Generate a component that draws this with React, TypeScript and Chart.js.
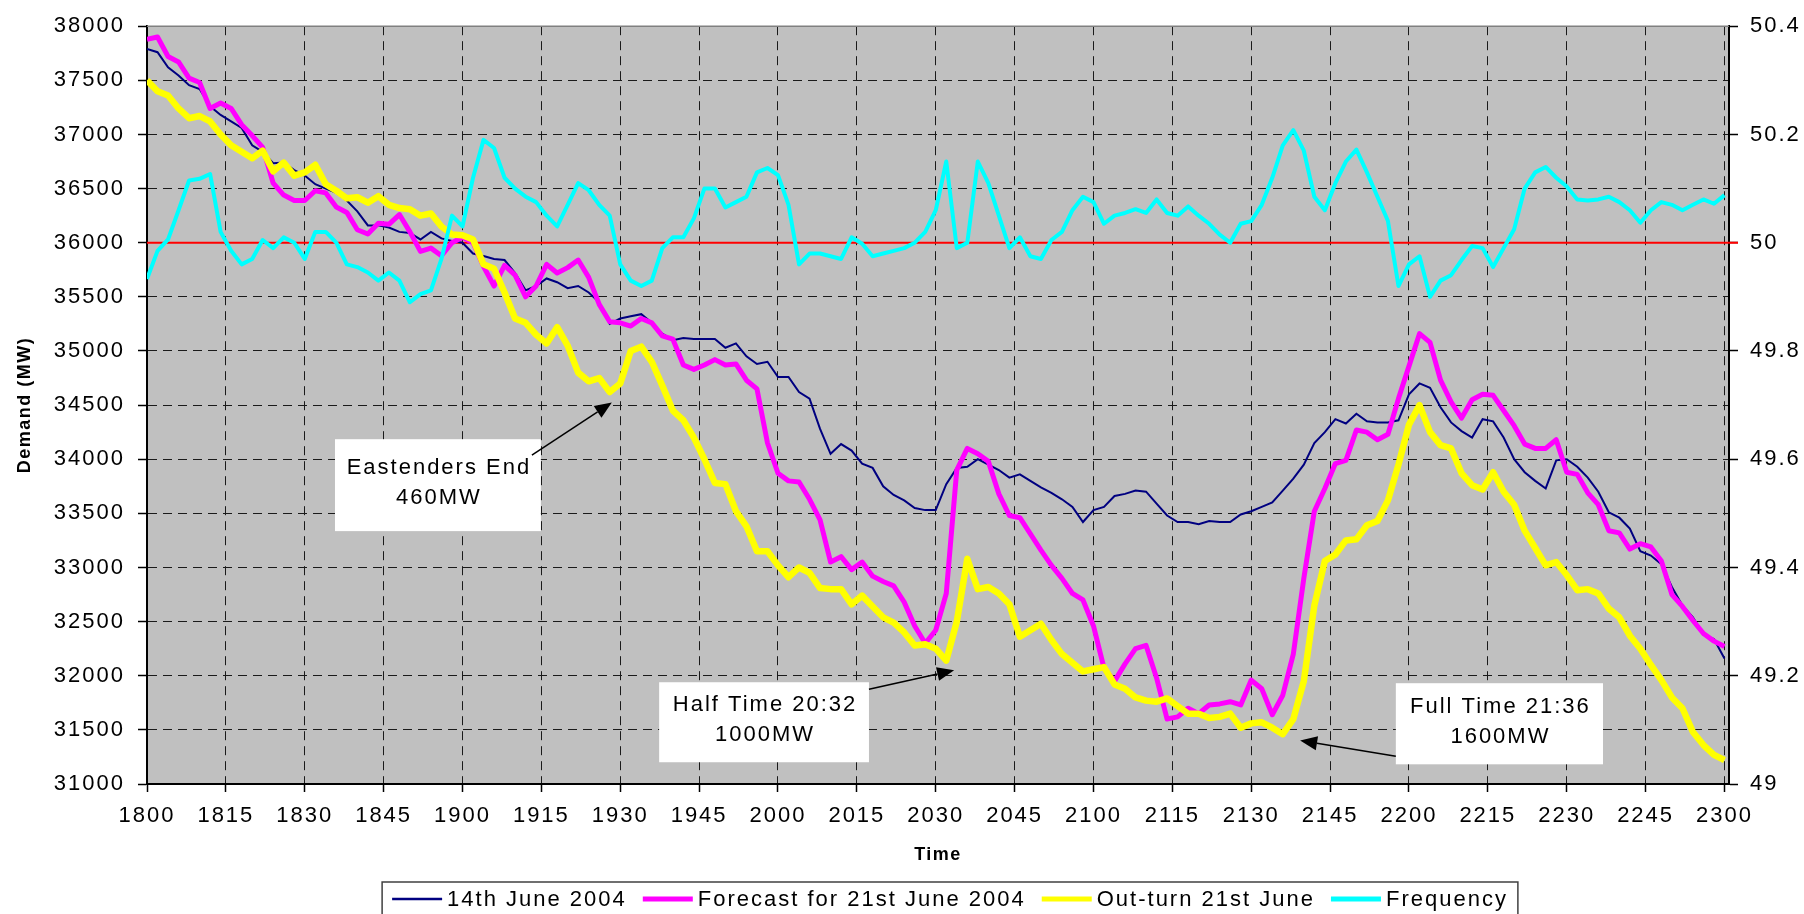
import React, { useEffect, useRef } from "react";
import { Chart, registerables } from "chart.js";

Chart.register(...registerables);

// ---- data -------------------------------------------------------------
// minutes after 18:00, sampled every two minutes
const minutes: number[] = Array.from({ length: 151 }, (_, i) => i * 2);

const june14: number[] = [
  37790, 37760, 37620, 37545, 37455, 37420, 37260, 37180, 37120, 37060,
  36900, 36840, 36735, 36740, 36670, 36620, 36540, 36500, 36460, 36390,
  36290, 36160, 36160, 36140, 36100, 36090, 36030, 36100, 36040, 36015,
  36000, 35900, 35878, 35850, 35840, 35720, 35560, 35600, 35670, 35635,
  35580, 35600, 35540, 35450, 35250, 35300, 35320, 35340, 35260, 35160,
  35100, 35120, 35110, 35110, 35110, 35030, 35070, 34950, 34880, 34900,
  34760, 34760, 34620, 34560, 34280, 34050, 34140, 34080, 33960, 33920,
  33750, 33670, 33620, 33550, 33530, 33530, 33770, 33920, 33930, 34000,
  33950, 33900, 33830, 33860, 33800, 33740, 33690, 33630, 33560, 33420,
  33530, 33560, 33660, 33680, 33710, 33700, 33590, 33480, 33420, 33420,
  33400, 33430, 33420, 33420, 33490, 33520, 33560, 33600, 33710, 33820,
  33950, 34150, 34250, 34370, 34330, 34420, 34350, 34340, 34340, 34360,
  34600, 34700, 34660, 34480, 34340, 34260, 34200, 34370, 34350, 34200,
  34000, 33880, 33800, 33730, 33990, 34000, 33930, 33830, 33700, 33510,
  33460, 33360, 33150, 33110, 33030, 32820, 32650, 32540, 32380, 32340,
  32160,
];

const forecast21: number[] = [
  37880, 37900, 37720, 37670, 37520, 37480, 37240, 37290, 37240, 37090,
  36990, 36880, 36550, 36440, 36390, 36390, 36480, 36460, 36330, 36280,
  36120, 36080, 36180, 36170, 36260, 36100, 35920, 35950, 35880, 36000,
  36050, 36000, 35780, 35600, 35790, 35700, 35500, 35600, 35800, 35720,
  35770, 35840, 35680, 35430, 35270, 35260, 35230, 35300, 35260, 35140,
  35110, 34870, 34830, 34870, 34920, 34870, 34880, 34730, 34650, 34150,
  33870, 33800, 33790, 33630, 33440, 33050, 33100, 32980, 33050, 32920,
  32870, 32830, 32680, 32460, 32300, 32420, 32760, 33900, 34100, 34050,
  33980, 33680, 33480, 33460, 33310, 33160, 33020, 32900, 32760, 32700,
  32460, 32070, 31950, 32110, 32250, 32280, 31980, 31600, 31620, 31700,
  31650, 31730, 31740, 31760, 31730, 31960, 31880, 31640, 31820, 32200,
  32900, 33520, 33730, 33960, 33990, 34270, 34250, 34180, 34230, 34560,
  34860, 35160, 35080, 34730, 34530, 34380, 34550, 34600, 34590, 34450,
  34310, 34140, 34100, 34100, 34180, 33880, 33860, 33690, 33580, 33340,
  33320, 33170, 33220, 33190, 33060, 32750, 32640, 32510, 32390, 32320,
  32270,
];

const outturn21: number[] = [
  37500, 37400, 37360, 37240, 37150, 37170, 37120, 37000, 36900, 36840,
  36780, 36850, 36660, 36740, 36620, 36650, 36720, 36540, 36480, 36410,
  36420, 36370, 36430, 36350, 36320, 36310, 36250, 36270, 36150, 36076,
  36070, 36030, 35800, 35760, 35540, 35300, 35260, 35150, 35070, 35220,
  35050, 34800, 34720, 34750, 34620, 34700, 35000, 35040, 34900, 34680,
  34450, 34360, 34200, 34000, 33780, 33770, 33520, 33380, 33150, 33150,
  33020, 32910, 33000, 32950, 32810, 32800, 32800, 32660, 32740, 32640,
  32540, 32490, 32400, 32280, 32290, 32250, 32140, 32500, 33080, 32800,
  32820, 32760, 32660, 32360, 32420, 32480, 32330, 32200, 32120, 32040,
  32060, 32080, 31920, 31880, 31800, 31770, 31760, 31790, 31720, 31650,
  31650, 31610, 31620, 31650, 31520, 31560, 31570, 31520, 31460, 31600,
  31950, 32650, 33060, 33120, 33250, 33260, 33390, 33430, 33620, 33950,
  34320, 34500, 34250, 34130, 34100, 33870, 33760, 33720, 33880, 33700,
  33580, 33340, 33180, 33020, 33050, 32930, 32790, 32800, 32760, 32620,
  32540, 32370, 32250, 32100, 31960, 31800, 31700, 31480, 31360, 31270,
  31220,
];

const frequency: number[] = [
  49.933, 49.985, 50.006, 50.06, 50.115, 50.118, 50.127, 50.02, 49.985, 49.96,
  49.97, 50.005, 49.99, 50.01, 50.0, 49.97, 50.02, 50.02, 50.0, 49.96,
  49.955, 49.945, 49.93, 49.945, 49.93, 49.89, 49.905, 49.912, 49.97, 50.05,
  50.03, 50.12, 50.19, 50.175, 50.12, 50.1, 50.085, 50.075, 50.05, 50.03,
  50.07, 50.11, 50.097, 50.07, 50.05, 49.96, 49.93, 49.92, 49.93, 49.99,
  50.01, 50.01, 50.045, 50.1, 50.1, 50.065, 50.075, 50.085, 50.13, 50.138,
  50.125, 50.07, 49.96, 49.98, 49.98, 49.975, 49.97, 50.01, 49.998, 49.975,
  49.98, 49.985, 49.99, 50.0, 50.02, 50.06, 50.15, 49.99, 50.0, 50.15,
  50.11, 50.05, 49.99, 50.01, 49.975, 49.97, 50.005, 50.02, 50.06, 50.085,
  50.075, 50.035, 50.05, 50.055, 50.062, 50.055, 50.08, 50.055, 50.05, 50.067,
  50.05, 50.035, 50.015, 50.0, 50.035, 50.04, 50.07, 50.12, 50.18, 50.208,
  50.17, 50.085, 50.06, 50.11, 50.15, 50.172, 50.13, 50.085, 50.04, 49.92,
  49.96, 49.975, 49.9, 49.93, 49.94, 49.968, 49.994, 49.99, 49.955, 49.99,
  50.025, 50.1, 50.13, 50.14, 50.12, 50.104, 50.08, 50.078, 50.08, 50.085,
  50.075, 50.06, 50.037, 50.06, 50.075, 50.07, 50.06, 50.07, 50.08, 50.072,
  50.088,
];

const nominalFrequency = 50;

const xTickMinutes: number[] = [0, 15, 30, 45, 60, 75, 90, 105, 120, 135, 150, 165, 180, 195, 210, 225, 240, 255, 270, 285, 300];
const xTickLabels: string[] = ["1800", "1815", "1830", "1845", "1900", "1915", "1930", "1945", "2000", "2015", "2030", "2045", "2100", "2115", "2130", "2145", "2200", "2215", "2230", "2245", "2300"];
const demandTicks: number[] = [31000, 31500, 32000, 32500, 33000, 33500, 34000, 34500, 35000, 35500, 36000, 36500, 37000, 37500, 38000];
const freqTicks: number[] = [49, 49.2, 49.4, 49.6, 49.8, 50, 50.2, 50.4];
const freqTickLabels: string[] = ["49", "49.2", "49.4", "49.6", "49.8", "50", "50.2", "50.4"];

const seriesLabels = ["14th June 2004", "Forecast for 21st June 2004", "Out-turn 21st June", "Frequency"];

// call-outs, placed in data units (minutes after 18:00, MW)
const callouts = [
  { lines: ["Eastenders End", "460MW"], box: [35.75, 74.9, 34185, 33336], from: [73.2, 34039], to: [88.4, 34523] },
  { lines: ["Half Time 20:32", "1000MW"], box: [97.4, 137.3, 31940, 31201], from: [137.3, 31876], to: [153.5, 32050] },
  { lines: ["Full Time 21:36", "1600MW"], box: [237.5, 276.9, 31931, 31182], from: [237.5, 31256], to: [219.3, 31402] },
];

// ---- styling ------------------------------------------------------------
const FONT = "'Liberation Sans', Arial, Helvetica, sans-serif";
const SPACING = "2px";
const COLORS = { june14: "#000080", forecast: "#ff00ff", outturn: "#ffff00", freq: "#00ffff" };
const WIDTHS = { june14: 2, forecast: 5, outturn: 6.5, freq: 4 };

function pts(vals: number[]) {
  return minutes.map((m, i) => ({ x: m, y: vals[i] }));
}

function drawArrow(ctx: CanvasRenderingContext2D, x1: number, y1: number, x2: number, y2: number) {
  const ang = Math.atan2(y2 - y1, x2 - x1);
  const len = 17;
  const half = 7;
  const bx = x2 - len * Math.cos(ang);
  const by = y2 - len * Math.sin(ang);
  ctx.strokeStyle = "#000";
  ctx.lineWidth = 1.5;
  ctx.beginPath();
  ctx.moveTo(x1, y1);
  ctx.lineTo(bx, by);
  ctx.stroke();
  ctx.fillStyle = "#000";
  ctx.beginPath();
  ctx.moveTo(x2, y2);
  ctx.lineTo(bx + half * Math.sin(ang), by - half * Math.cos(ang));
  ctx.lineTo(bx - half * Math.sin(ang), by + half * Math.cos(ang));
  ctx.closePath();
  ctx.fill();
}

const decorPlugin = {
  id: "decor",
  beforeDraw(chart: any) {
    const { ctx, chartArea: a } = chart;
    ctx.save();
    ctx.fillStyle = "#ffffff";
    ctx.fillRect(0, 0, chart.width, chart.height);
    ctx.fillStyle = "#c0c0c0";
    ctx.fillRect(a.left, a.top, a.right - a.left, a.bottom - a.top);
    ctx.restore();
    ctx.letterSpacing = SPACING;
  },
  beforeDatasetsDraw(chart: any) {
    const { ctx, chartArea: a, scales } = chart;
    ctx.save();
    ctx.strokeStyle = "#808080";
    ctx.lineWidth = 1.5;
    ctx.beginPath();
    ctx.moveTo(a.left, a.top);
    ctx.lineTo(a.right, a.top);
    ctx.stroke();
    const y = scales.y1.getPixelForValue(nominalFrequency);
    ctx.strokeStyle = "#ff0000";
    ctx.lineWidth = 2;
    ctx.beginPath();
    ctx.moveTo(a.left, y);
    ctx.lineTo(a.right + 9, y);
    ctx.stroke();
    ctx.restore();
  },
  afterDraw(chart: any) {
    const { ctx, chartArea: a, scales } = chart;
    const xs = scales.x;
    const ys = scales.y;
    ctx.save();
    ctx.letterSpacing = SPACING;

    // call-outs
    ctx.font = `22px ${FONT}`;
    ctx.textAlign = "center";
    ctx.textBaseline = "middle";
    for (const c of callouts) {
      const x1 = xs.getPixelForValue(c.box[0]);
      const x2 = xs.getPixelForValue(c.box[1]);
      const y1 = ys.getPixelForValue(c.box[2]);
      const y2 = ys.getPixelForValue(c.box[3]);
      ctx.fillStyle = "#ffffff";
      ctx.fillRect(x1, y1, x2 - x1, y2 - y1);
      const cx = (x1 + x2) / 2 + 1;
      const cy = (y1 + y2) / 2;
      ctx.fillStyle = "#000";
      ctx.fillText(c.lines[0], cx, cy - 17);
      ctx.fillText(c.lines[1], cx, cy + 13);
      drawArrow(
        ctx,
        xs.getPixelForValue(c.from[0]),
        ys.getPixelForValue(c.from[1]),
        xs.getPixelForValue(c.to[0]),
        ys.getPixelForValue(c.to[1])
      );
    }

    // axis titles
    ctx.fillStyle = "#000";
    ctx.font = `bold 18px ${FONT}`;
    ctx.letterSpacing = "1.5px";
    ctx.textAlign = "center";
    ctx.textBaseline = "middle";
    ctx.fillText("Time", (a.left + a.right) / 2, a.bottom + 71);
    ctx.save();
    ctx.translate(a.left - 122, (a.top + a.bottom) / 2);
    ctx.rotate(-Math.PI / 2);
    ctx.fillText("Demand (MW)", 0, 0);
    ctx.restore();

    // legend
    ctx.letterSpacing = SPACING;
    ctx.font = `22px ${FONT}`;
    ctx.textAlign = "left";
    const ds = chart.data.datasets.filter((d: any) => seriesLabels.includes(d.label));
    const ordered = seriesLabels.map((l) => ds.find((d: any) => d.label === l));
    const sample = 50;
    const gapText = 5;
    const gapItem = 16;
    const pad = 10;
    let total = pad * 2;
    ordered.forEach((d: any, i: number) => {
      total += sample + gapText + ctx.measureText(d.label).width + (i < ordered.length - 1 ? gapItem : 0);
    });
    const boxLeft = (a.left + a.right) / 2 + 12 - total / 2;
    const boxTop = a.bottom + 98;
    const cy = boxTop + 17;
    ctx.strokeStyle = "#404040";
    ctx.lineWidth = 1.5;
    ctx.strokeRect(boxLeft, boxTop, total, 60);
    let x = boxLeft + pad;
    ordered.forEach((d: any) => {
      ctx.strokeStyle = d.borderColor;
      ctx.lineWidth = d.label === seriesLabels[0] ? 2.5 : 5;
      ctx.beginPath();
      ctx.moveTo(x, cy);
      ctx.lineTo(x + sample, cy);
      ctx.stroke();
      x += sample + gapText;
      ctx.fillStyle = "#000";
      ctx.textBaseline = "middle";
      ctx.fillText(d.label, x, cy + 1);
      x += ctx.measureText(d.label).width + gapItem;
    });
    ctx.restore();
  },
};

export default function App() {
  const ref = useRef<HTMLCanvasElement | null>(null);

  useEffect(() => {
    const canvas = ref.current;
    if (!canvas) return;
    Chart.defaults.font.family = FONT;
    Chart.defaults.color = "#000";

    const gridColor = "#1a1a1a";

    const chart = new Chart(canvas, {
      type: "line",
      data: {
        datasets: [
          {
            label: seriesLabels[3],
            data: pts(frequency),
            yAxisID: "y1",
            borderColor: COLORS.freq,
            backgroundColor: COLORS.freq,
            borderWidth: WIDTHS.freq,
            pointRadius: 0,
            tension: 0,
            borderJoinStyle: "round",
            order: 0,
          },
          {
            label: seriesLabels[2],
            data: pts(outturn21),
            yAxisID: "y",
            borderColor: COLORS.outturn,
            backgroundColor: COLORS.outturn,
            borderWidth: WIDTHS.outturn,
            pointRadius: 0,
            tension: 0,
            borderJoinStyle: "round",
            order: 1,
          },
          {
            label: seriesLabels[1],
            data: pts(forecast21),
            yAxisID: "y",
            borderColor: COLORS.forecast,
            backgroundColor: COLORS.forecast,
            borderWidth: WIDTHS.forecast,
            pointRadius: 0,
            tension: 0,
            borderJoinStyle: "round",
            order: 2,
          },
          {
            label: seriesLabels[0],
            data: pts(june14),
            yAxisID: "y",
            borderColor: COLORS.june14,
            backgroundColor: COLORS.june14,
            borderWidth: WIDTHS.june14,
            pointRadius: 0,
            tension: 0,
            order: 3,
          },
        ],
      },
      options: {
        responsive: false,
        animation: false,
        events: [],
        layout: { padding: { top: 17, left: 0, right: 0, bottom: 0 } },
        plugins: { legend: { display: false }, tooltip: { enabled: false }, title: { display: false } },
        scales: {
          x: {
            type: "linear",
            position: "bottom",
            min: 0,
            max: 300.86,
            afterBuildTicks: (s: any) => {
              s.ticks = xTickMinutes.map((v) => ({ value: v }));
            },
            afterFit: (s: any) => {
              s.height = 130;
            },
            ticks: {
              autoSkip: false,
              maxRotation: 0,
              minRotation: 0,
              padding: 11,
              color: "#000",
              font: { size: 22, family: FONT },
              callback: (_v: any, i: number) => xTickLabels[i],
            },
            grid: {
              color: gridColor,
              lineWidth: 1,
              drawTicks: true,
              tickLength: 8,
              tickColor: "#000",
              tickWidth: 1.5,
              tickBorderDash: [],
            },
            border: { display: true, color: "#000", width: 2, dash: [9, 6] },
          },
          y: {
            type: "linear",
            position: "left",
            min: 31000,
            max: 38000,
            afterBuildTicks: (s: any) => {
              s.ticks = demandTicks.map((v) => ({ value: v }));
            },
            afterFit: (s: any) => {
              s.width = 147;
            },
            ticks: {
              padding: 13,
              color: "#000",
              font: { size: 22, family: FONT },
              callback: (v: any) => String(v),
            },
            grid: {
              color: (c: any) => (c.tick && c.tick.value === 38000 ? "rgba(0,0,0,0)" : gridColor),
              lineWidth: 1,
              drawTicks: true,
              tickLength: 9,
              tickColor: "#000",
              tickWidth: 1.5,
              tickBorderDash: [],
            },
            border: { display: true, color: "#000", width: 2, dash: [9, 6] },
          },
          y1: {
            type: "linear",
            position: "right",
            min: 49,
            max: 50.4,
            afterBuildTicks: (s: any) => {
              s.ticks = freqTicks.map((v) => ({ value: v }));
            },
            afterFit: (s: any) => {
              s.width = 75;
            },
            ticks: {
              padding: 12,
              color: "#000",
              font: { size: 22, family: FONT },
              callback: (_v: any, i: number) => freqTickLabels[i],
            },
            grid: {
              drawOnChartArea: false,
              drawTicks: true,
              tickLength: 9,
              tickColor: "#000",
              tickWidth: 1.5,
              tickBorderDash: [],
              color: "#000",
            },
            border: { display: true, color: "#000", width: 2 },
          },
        },
      },
      plugins: [decorPlugin],
    } as any);

    return () => chart.destroy();
  }, []);

  return (
    <div style={{ position: "fixed", left: 0, top: 0, width: 1804, height: 914, background: "#fff" }}>
      <canvas ref={ref} width={1804} height={914} style={{ display: "block", width: 1804, height: 914 }} />
    </div>
  );
}
